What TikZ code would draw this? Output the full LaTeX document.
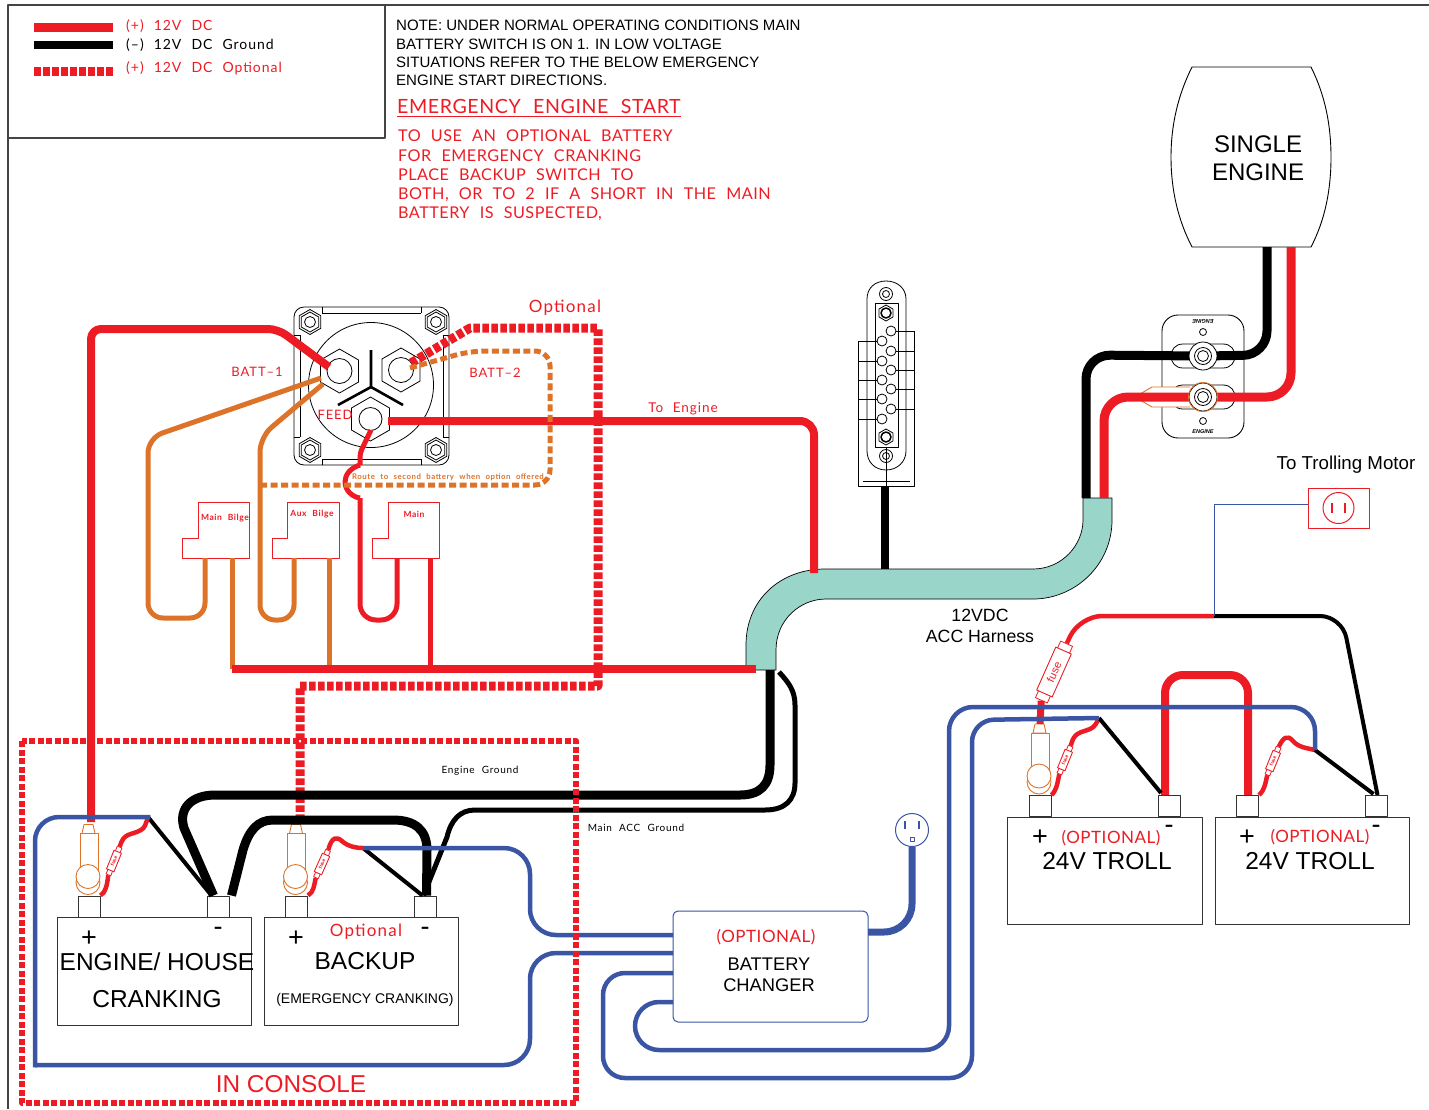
\documentclass[tikz,border=0pt]{standalone}
\usepackage{fontspec}
\setmainfont{Liberation Sans}
\newfontfamily\cad[LetterSpace=7,WordSpace=2.2]{Lato}
\newfontfamily\cadn[LetterSpace=3]{Lato}
\newfontfamily\cade[LetterSpace=3,WordSpace=2.2]{Lato}
\usetikzlibrary{calc}
\definecolor{wred}{HTML}{ED1C24}
\definecolor{wblue}{HTML}{3A55A4}
\definecolor{worange}{HTML}{DC7329}
\definecolor{mint}{HTML}{99D5C9}
\definecolor{frameg}{HTML}{444444}
\newcommand\fs[1]{\fontsize{#1}{#1}\selectfont}
\newcommand\fsl[2]{\fontsize{#1}{#2}\selectfont}
\newcommand\hexn[2]{\draw[shift={(#1)},fill=white] (30:#2)--(90:#2)--(150:#2)--(210:#2)--(270:#2)--(330:#2)--cycle;}
\newcommand\ringterm[1]{\begin{scope}[shift={(#1)},draw=worange,line width=0.9pt]
  \draw (-5,-71)--(4,-71)--(6,-62)--(-7,-62)--cycle;
  \draw (-9,-62) rectangle (9,-16);
  \draw[fill=white] (-1,-13) circle (12);
  \draw[fill=white] (-1,-19) circle (12);
\end{scope}}
\newcommand\bolt[1]{\hexn{#1}{12.5}\hexn{#1}{10}\draw (#1) circle (5.5);}
\tikzset{
  redw/.style={draw=wred,line width=8pt},
  redt/.style={draw=wred,line width=4.5pt,line join=round},
  redd/.style={draw=wred,line width=9pt,dash pattern=on 6.5pt off 2.5pt},
  blkw/.style={draw=black,line width=9pt},
  blkt/.style={draw=black,line width=4pt},
  orw/.style={draw=worange,line width=5pt},
  blw/.style={draw=wblue,line width=4.5pt},
  lbl/.style={inner sep=0pt,text=black},
  cadr/.style={inner sep=0pt,text=wred,font=\cad\fs{#1}},
  cadb/.style={inner sep=0pt,text=black,font=\cad\fs{#1}},
  cado/.style={inner sep=0pt,text=wred,font=\cadn\fs{#1}},
  batt/.style={draw=black!80,line width=1pt,fill=white,inner sep=0pt},
  postn/.style={draw=black!80,line width=1pt,fill=white,inner sep=0pt,minimum width=22pt,minimum height=21pt},
  fusecap/.style={draw=wred,line width=0.8pt,fill=white,inner sep=0pt},
  fusebody/.style={draw=wred,line width=0.9pt,fill=white,inner sep=0pt,text=wred},
}
\begin{document}
\begin{tikzpicture}[x=1pt,y=-1pt,line join=round]
\useasboundingbox (0,0) rectangle (1429,1109);
% frame
\draw[frameg,line width=1.2pt] (1429,5) -- (8,5) -- (8,1109);
\draw[frameg,line width=1.2pt] (385,5) -- (385,138) -- (8,138);
% legend
\coordinate (lgA) at (34,27); \coordinate (lgB) at (113,27);
\coordinate (lgC) at (34,45); \coordinate (lgD) at (113,45);
\coordinate (lgE) at (34,71); \coordinate (lgF) at (113,71);
\draw[redw,line width=9pt] (lgA) -- (lgB);
\draw[blkw,line width=8pt] (lgC) -- (lgD);
\draw[redd] (lgE) -- (lgF);
\node[cadr=14,anchor=west] (lg1) at (126,26) {(+) 12V DC};
\node[cadb=14,anchor=west] (lg2) at (126,45) {(–) 12V DC Ground};
\node[cadr=14,anchor=west] (lg3) at (126,68) {(+) 12V DC Optional};
% notes
\node[lbl,anchor=north west,align=left,font=\fsl{15.05}{18.3}] (note) at (396,20) {NOTE: UNDER NORMAL OPERATING CONDITIONS MAIN\\BATTERY SWITCH IS ON 1. IN LOW VOLTAGE\\SITUATIONS REFER TO THE BELOW EMERGENCY\\ENGINE START DIRECTIONS.};
\node[inner sep=0pt,text=wred,font=\cade\fs{19.6},anchor=west] (emer) at (397,106) {EMERGENCY ENGINE START};
\draw[wred,line width=1pt] (emer.west |- 0,116) -- (emer.east |- 0,116);
\node[inner sep=0pt,text=wred,anchor=north west,align=left,font=\cade\fsl{16.2}{19.2}] (emtxt) at (398,130) {TO USE AN OPTIONAL BATTERY\\FOR EMERGENCY CRANKING\\PLACE BACKUP SWITCH TO\\BOTH, OR TO 2 IF A SHORT IN THE MAIN\\BATTERY IS SUSPECTED,};
% engine
\draw[black,line width=0.9pt] (1192,67) -- (1311,67) .. controls (1325,95) and (1331,125) .. (1331,157) .. controls (1331,190) and (1325,220) .. (1311,247) -- (1192,247) .. controls (1178,220) and (1171,190) .. (1171,157) .. controls (1171,125) and (1178,95) .. (1192,67) -- cycle;
\node[lbl,align=center,font=\fsl{24}{28.5}] (eng) at (1258,158) {SINGLE\\ENGINE};
\coordinate (engB) at (1267,247); \coordinate (engR) at (1291,247);
% harness
\draw[fill=mint,draw=black,line width=0.7pt] (746,670) -- (746,645) .. controls (746,600) and (780,569) .. (825,569) -- (1033,569) .. controls (1062,569) and (1083,545) .. (1083,520) -- (1083,498) -- (1112,498) -- (1112,520) .. controls (1112,565) and (1075,599) .. (1033,599) -- (826,599) .. controls (800,599) and (776,620) .. (776,650) -- (776,670) -- cycle;
\coordinate (hTop) at (1086,498); \coordinate (hTopR) at (1104,498);
\coordinate (hEng) at (814,573); \coordinate (hAcc) at (885,569);
\coordinate (hBusEnd) at (756,669); \coordinate (hGnd) at (770,670); \coordinate (hGnd2) at (779,672);
% harness labels
\node[lbl,align=center,font=\fsl{17.7}{21}] (hlab) at (980,626) {12VDC\\ACC Harness};
% ACC block
\begin{scope}[black,line width=0.8pt]
\draw (858,341) -- (858,486) -- (914,486) -- (914,331);
\draw (863,481) -- (910,481);
\draw[fill=white] (867,299) .. controls (867,288) and (875,281) .. (886,281) .. controls (897,281) and (906,288) .. (906,299) -- (906,451) .. controls (906,462) and (897,470) .. (886,470) .. controls (875,470) and (867,462) .. (867,451) -- cycle;
\draw (858,341) -- (882,341) (858,361) -- (882,361) (858,380) -- (882,380) (858,399) -- (882,399) (858,419) -- (882,419);
\draw (891,331) -- (914,331) (891,351) -- (914,351) (891,370) -- (914,370) (891,389) -- (914,389) (891,409) -- (914,409);
\draw (875,303) rectangle (898,447);
\draw (886,447) -- (886,486);
\foreach \yy in {341,361,380,399,419} \draw[fill=white] (882,\yy) circle (5);
\foreach \yy in {331,351,370,389,409} \draw[fill=white] (891,\yy) circle (5);
\draw (886,294) circle (6.5) circle (3.5);
\draw (886,456) circle (6.5) circle (3.5);
\hexn{886,313}{8}\draw[line width=1.5pt] (886,313) circle (5);
\hexn{886,437}{8}\draw[line width=1.5pt] (886,437) circle (5);
\end{scope}
\coordinate (accB) at (885,486);
\draw[blkw,line width=8pt] (accB) -- (hAcc);
% engine switch plate
\node[draw=black,line width=0.9pt,rounded corners=16pt,fill=white,inner sep=0pt,minimum width=82pt,minimum height=123pt] (plate) at (1203,376.5) {};
\node[inner sep=0pt,rotate=180,font=\bfseries\itshape\fs{5.5}] (pl1) at (1203,321) {ENGINE};
\node[inner sep=0pt,font=\bfseries\itshape\fs{5.5}] (pl2) at (1203,432) {ENGINE};
\draw[line width=0.8pt] (1203,332) circle (3.5) (1203,421) circle (3.5);
\coordinate (studU) at (1203,356); \coordinate (studL) at (1203,397);
\foreach \cc in {studU,studL}{
  \draw[line width=0.8pt] ($(\cc)+(-20,-12)$) -- ($(\cc)+(20,-12)$) .. controls ($(\cc)+(36,-12)$) and ($(\cc)+(36,12)$) .. ($(\cc)+(20,12)$) -- ($(\cc)+(-20,12)$) .. controls ($(\cc)+(-36,12)$) and ($(\cc)+(-36,-12)$) .. ($(\cc)+(-20,-12)$) -- cycle;
}
% wires to plate
\draw[blkw,rounded corners=24pt] (hTop) -- (1086,355) -- (studU);
\draw[blkw,rounded corners=24pt] (studU) -- (1267,355) -- (engB);
\draw[worange,line width=0.9pt,fill=white] (1190,387) -- (1152,387) -- (1140,394) -- (1140,400) -- (1152,407) -- (1190,407);
\draw[redw,line width=9pt,rounded corners=24pt] (hTopR) -- (1104,397) -- (studL);
\draw[redw,line width=9pt,rounded corners=24pt] (studL) -- (1291,397) -- (engR);
\foreach \cc in {studU,studL}{
  \draw[line width=0.8pt,fill=white] (\cc) circle (14);
  \draw[line width=0.8pt] (\cc) circle (8.5) circle (5.5);
}
\draw[worange,line width=0.9pt] (studL) circle (14.5);
% battery switch
\begin{scope}[black,line width=0.8pt]
\draw[fill=white,rounded corners=10pt] (294,307) rectangle (449,465);
\draw (322,313) -- (421,313) (322,459) -- (421,459) (300,335) -- (300,437) (443,335) -- (443,437);
\draw (322,307) -- (322,313) (421,307) -- (421,313) (322,465) -- (322,459) (421,465) -- (421,459) (294,335) -- (300,335) (443,335) -- (449,335) (294,437) -- (300,437) (443,437) -- (449,437);
\draw (371,385) circle (62.5);
\bolt{310,322}\bolt{436,322}\bolt{310,450}\bolt{436,450}
\hexn{339.5,371}{22}\draw[fill=white] (339.5,371) circle (12.5);
\hexn{401,370}{22}\draw[fill=white] (401,370) circle (12.5);
\draw[line width=2.6pt] (371,350) -- (371,387) -- (338,405) (371,387) -- (403,405);
\hexn{370.5,419}{22}
\draw[fill=white] (370.5,419) circle (11.5);
\end{scope}
\coordinate (sw1) at (329,367); \coordinate (sw2) at (411,363); \coordinate (sw2o) at (410,368);
\coordinate (swF) at (388,421); \coordinate (swB) at (371,430);
\node[cadr=13,anchor=center] (b1) at (257,372) {BATT–1};
\node[cadr=13,anchor=center] (b2) at (495,373) {BATT–2};
\node[cadr=13,anchor=center] (fd) at (335,415) {FEED};
\node[cadr=17] (opt1) at (565,308) {Optional};
\node[cadr=13.5] (toe) at (683,409) {To Engine};
% relays
\foreach \rx/\rs/\rl in {198/182/249,287/272/339,388/372/439}{
  \draw[wred,line width=1pt] (\rx,502) -- (\rl,502) -- (\rl,558) -- (\rs,558) -- (\rs,538) -- (\rx,538) -- cycle;
}
\node[inner sep=0pt,text=wred,font=\bfseries\fs{8.5}\cad] (r1t) at (225,518) {Main Bilge};
\node[inner sep=0pt,text=wred,font=\bfseries\fs{8.5}\cad] (r2t) at (312,514) {Aux Bilge};
\node[inner sep=0pt,text=wred,font=\bfseries\fs{8.5}\cad] (r3t) at (414,514) {Main};
\coordinate (r1a) at (205,558); \coordinate (r1b) at (232,558);
\coordinate (r2a) at (294,558); \coordinate (r2b) at (329,558);
\coordinate (r3a) at (397,558); \coordinate (r3b) at (430,558);
\coordinate (busW) at (232,669);
% orange wires
\draw[orw,rounded corners=15pt] (321,378) -- (148,438) -- (148,618) -- (205,618) -- (r1a);
\draw[orw,rounded corners=15pt] (323,384) -- (260,437) -- (260,620) -- (294,620) -- (r2a);
\draw[orw] (r1b) -- (232,669);
\draw[orw] (r2b) -- (329,669);
% red relay wires
\draw[redt,line width=5pt,rounded corners=4pt] (swB) -- (360,453) -- (360,465);
\draw[redt,line width=5pt] (360,465) .. controls (350,468) and (345,475) .. (345,482) .. controls (345,490) and (352,497) .. (360,498);
\draw[redt,line width=5pt,rounded corners=16pt] (360,498) -- (360,620) -- (397,620) -- (r3a);
\draw[redt,line width=5pt] (r3b) -- (430,669);
% main bus
\draw[redw] (busW) -- (hBusEnd);
% dashed optional
\draw[redd] (sw2) -- (470,328) -- (598,328) -- (598,686) -- (300,686) -- (300,823);
% to engine
\draw[redw,rounded corners=14pt] (swF) -- (814,421) -- (hEng);
% orange dashed
\draw[orw,dash pattern=on 7pt off 3.5pt,rounded corners=15pt] (sw2o) -- (470,351) -- (550,351) -- (550,485) -- (262,485);
\node[inner sep=0pt,text=worange,font=\bfseries\cad\fs{7.8}] (route) at (448,477) {Route to second battery when option offered};
% batteries
\node[batt,minimum width=194pt,minimum height=108pt] (bE) at (154,971.5) {};
\node[batt,minimum width=194pt,minimum height=108pt] (bB) at (361,971.5) {};
\node[batt,minimum width=195pt,minimum height=107pt] (bT1) at (1104.5,870.5) {};
\node[batt,minimum width=194pt,minimum height=107pt] (bT2) at (1312,870.5) {};
\node[postn] (tEp) at (89,906.5) {};
\node[postn] (tEm) at (218.5,906.5) {};
\node[postn] (tBp) at (296.5,906.5) {};
\node[postn] (tBm) at (425.5,906.5) {};
\node[postn] (t1p) at (1040,806) {};
\node[postn] (t1m) at (1169,806) {};
\node[postn] (t2p) at (1247.5,806) {};
\node[postn] (t2m) at (1376.5,806) {};
\ringterm{tEp.north}
\ringterm{tBp.north}
\ringterm{t1p.north}
\coordinate (jE) at (148,817); \coordinate (jB) at (363,848);
\coordinate (jT1) at (1099,718); \coordinate (jT2) at (1315,750);
% main + red
\draw[redw,rounded corners=10pt] (91,822) -- (91,329) -- (278,329) -- (sw1);
% grounds
\draw[blkw] (hGnd) -- (770,765) .. controls (770,785) and (760,795) .. (740,795) -- (215,795) .. controls (192,795) and (178,808) .. (184,828) -- ($(tEm.north)+(-5,0)$);
\draw[blkw] ($(tEm.north)+(13,0)$) -- (243,850) .. controls (249,830) and (258,820) .. (273,820) -- (393,820) .. controls (415,820) and (427,830) .. (427,850) -- ($(tBm.north)+(1,0)$);
\draw[blkt,line width=5pt] ($(tBm.north)+(-2,0)$) -- (447,837) .. controls (451,820) and (460,810) .. (475,810) -- (765,810) .. controls (785,810) and (795,800) .. (795,783) -- (795,705) .. controls (795,690) and (788,682) .. (hGnd2);
\draw[blkt] (jE) -- ($(tEm.north)+(-7,0)$);
\draw[blkt] (jB) -- ($(tBm.north)+(-3,0)$);
\node[cadb=10] (eg) at (480,771) {Engine Ground};
\node[cadb=10] (mg) at (636,828) {Main ACC Ground};
% fuses small
\foreach \nm/\xx/\yy/\aa in {fE/114/861/68,fB/322/864/66,fT1/1065/760/68,fT2/1273/761/68}{
  \node[fusecap,rotate=\aa,minimum width=30pt,minimum height=5pt] (\nm c) at (\xx,\yy) {};
  \node[fusebody,rotate=\aa,minimum width=20pt,minimum height=8pt,font=\bfseries\fs{5}] (\nm) at (\xx,\yy) {fuse};
}
\draw[redt] (tEp.north east) .. controls (106,892) and (107,885) .. (fEc.west);
\draw[redt] (fEc.east) .. controls (124,832) and (130,836) .. (141,830) .. controls (145,828) and (146,823) .. (jE);
\draw[redt] (tBp.north east) .. controls (314,892) and (314,885) .. (fBc.west);
\draw[redt] (fBc.east) .. controls (332,836) and (337,836) .. (343,842) .. controls (348,846) and (355,848) .. (jB);
\draw[redt] (t1p.north east) .. controls (1057,790) and (1058,780) .. (fT1c.west);
\draw[redt] (fT1c.east) .. controls (1074,732) and (1080,733) .. (1090,729) .. controls (1095,727) and (1097,722) .. (jT1);
\draw[redt] (t2p.north east) .. controls (1265,790) and (1266,780) .. (fT2c.west);
\draw[redt] (fT2c.east) .. controls (1283,738) and (1287,734) .. (1293,741) .. controls (1298,747) and (1306,748) .. (jT2);
% trolling jumper
\draw[redw,rounded corners=18pt] ($(t1m.north)+(-4,0)$) -- (1165,675) -- (1248,675) -- ($(t2p.north)+(0.5,0)$);
\draw[blkt] (jT1) -- ($(t1m.north)+(-8,-2)$);
\draw[blkt] (jT2) -- ($(t2m.north)+(-3,-1)$);
% big fuse
\node[fusecap,rotate=66,minimum width=62pt,minimum height=13pt] (fBigc) at (1054,672) {};
\node[fusebody,rotate=66,minimum width=47pt,minimum height=17pt,font=\fs{11}] (fBig) at (1054,672) {fuse};
\coordinate (tJ) at (1214,616);
\draw[redw,line width=7pt] (fBigc.west) -- (t1p.north |- 0,724);
\draw[draw=wred,line width=4.5pt,rounded corners=22pt] (fBigc.east) -- (1080,616) -- (tJ);
\draw[blkt,rounded corners=22pt] (tJ) -- (1342,616) -- ($(t2m.north)+(1,0)$);
% blue wires
\node[draw=wblue,line width=1pt,rounded corners=5pt,fill=white,inner sep=0pt,minimum width=195pt,minimum height=111pt] (chg) at (770.5,966.5) {};
\node[cado=17] (chgo) at (766,937) {(OPTIONAL)};
\node[lbl,align=center,font=\fsl{18.3}{21}] (chgt) at (769,975) {BATTERY\\CHANGER};
\coordinate (cA) at (673,935); \coordinate (cB) at (673,953); \coordinate (cC) at (673,973); \coordinate (cD) at (673,1002);
\draw[blw,line cap=rect,rounded corners=24pt] (jE) -- (35,817) -- (35,1065);
\draw[blw,rounded corners=26pt] (35,1065) -- (530,1065) -- (530,953) -- (cB);
\draw[blw,rounded corners=26pt] (jB) -- (530,848) -- (530,935) -- (cA);
\draw[blw,rounded corners=22pt] (cC) -- (603,973) -- (603,1078) -- (972,1078) -- (972,720) -- (jT1);
\draw[blw,rounded corners=24pt] (cD) -- (635,1002) -- (635,1050) -- (949,1050) -- (949,707) -- (1315,707) -- (jT2);
\node[draw=wblue,line width=1pt,circle,inner sep=0pt,minimum size=33pt,fill=white] (out) at (912,830) {};
\draw[draw=wblue,line width=1.4pt] (905,821) -- (905,829) (919,821) -- (919,829);
\draw[draw=wblue,line width=0.9pt] (910,837) rectangle (914,841);
\draw[draw=wblue,line width=7pt,rounded corners=28pt] (out.south) -- (912,932) -- (868,932);
% trolling motor
\node[lbl,font=\fs{18.7}] (tm) at (1346,465) {To Trolling Motor};
\node[draw=wred,line width=1pt,inner sep=0pt,minimum width=61pt,minimum height=40pt] (plug) at (1338.5,508) {};
\draw[wred,line width=1pt] (plug.center) circle (15.5);
\draw[wred,line width=1.4pt] (1332,503) -- (1332,513) (1345,503) -- (1345,513);
\draw[draw=wblue,line width=1pt] ($(plug.west)+(0,-4)$) -- (1214,504) -- (tJ);
% console box
\draw[redd,line width=6pt,dash pattern=on 6pt off 2.5pt] (22,741) rectangle (576,1103);
% battery text
\node[lbl,font=\fs{27}] (pE) at (89,939) {+};
\node[lbl,font=\fs{27}] (mE) at (218,931) {-};
\node[lbl,font=\fs{27}] (pB) at (296,939) {+};
\node[lbl,font=\fs{27}] (mB) at (425,931) {-};
\node[lbl,font=\fs{24.5}] (tE) at (157,961.5) {ENGINE/ HOUSE};
\node[lbl,font=\fs{24.5}] (tE2) at (157,999.5) {CRANKING};
\node[lbl,font=\fs{24.5}] (tB) at (365,961.5) {BACKUP};
\node[lbl,font=\fs{14}] (tB2) at (365,999.5) {(EMERGENCY CRANKING)};
\node[cadr=17] (opt2) at (366,932) {Optional};
\node[inner sep=0pt,text=wred,font=\fs{24.4}] (con) at (291,1084) {IN CONSOLE};
\node[lbl,font=\fs{27}] (p1) at (1040,838) {+};
\node[lbl,font=\fs{27}] (m1) at (1169,829) {-};
\node[lbl,font=\fs{27}] (p2) at (1247,838) {+};
\node[lbl,font=\fs{27}] (m2) at (1376,829) {-};
\node[cado=17] (o1) at (1111,838) {(OPTIONAL)};
\node[cado=17] (o2) at (1320,837) {(OPTIONAL)};
\node[lbl,font=\fs{24.5}] (t1) at (1107,861) {24V TROLL};
\node[lbl,font=\fs{24.5}] (t2) at (1310,861) {24V TROLL};
\end{tikzpicture}
\end{document}
